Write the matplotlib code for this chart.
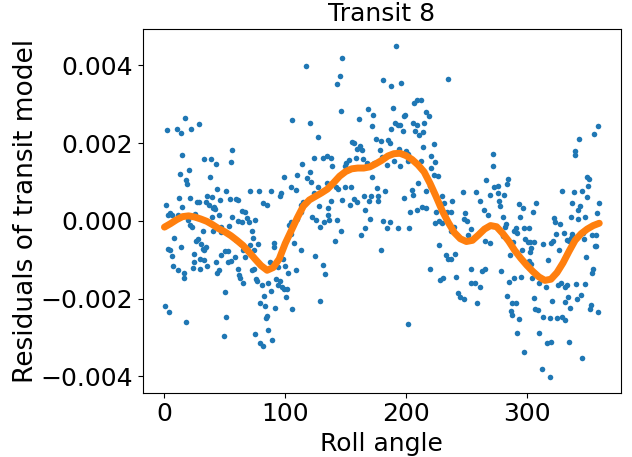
import matplotlib
matplotlib.use("Agg")
import matplotlib.pyplot as plt
import numpy as np

# Residual data (roll angle in degrees, residual in units of 1e-3)
points_1 = [(16.8,2.66),(1.9,2.33),(10.2,2.36),(13.5,2.25),(21.7,2.36),(28.6,2.49),(14.3,1.69),(33.0,1.59),
(38.5,1.58),(42.4,1.46),(55.8,1.83),(55.3,1.52),(20.1,1.30),(12.7,1.20),(18.2,1.05),(18.7,0.94),(38.0,1.12),
(43.7,0.82),(50.9,0.78),(12.1,0.60),(21.2,0.60),(35.5,0.64),(39.0,0.62),(45.9,0.53),(54.5,0.57),(1.4,0.41),
(14.9,0.36),(27.2,0.48),(28.3,0.48),(34.7,0.48),(37.1,0.40),(40.7,0.37),(41.8,0.30),(40.2,0.32),(2.8,0.16),
(4.7,0.21),(6.1,0.16),(11.0,0.14),(19.3,0.03),(21.5,-0.10),(22.8,-0.15),(25.3,0.17),(39.3,0.10),(45.4,0.14),
(55.8,0.10),(31.6,-0.26),(40.4,-0.26),(47.0,-0.16),(53.6,-0.13),(47.0,-0.28),(8.3,-0.45),(2.8,-0.72),(4.7,-0.75),
(13.8,-0.67),(6.3,-0.90),(26.4,-0.52),(27.5,-0.46),(30.3,-0.59),(31.6,-0.72),(34.4,-0.66),(33.0,-0.76),
(24.2,-0.86),(49.8,-0.77),(52.8,-0.77),(46.8,-0.88),(29.7,-0.99),(32.5,-1.01),(24.5,-1.07),(7.4,-1.16),
(11.0,-1.26),(16.5,-1.35),(16.0,-1.48),(23.9,-1.20),(29.2,-1.24),(35.2,-1.16),(42.9,-1.07),(43.7,-1.33),
(45.4,-1.26),(52.3,-1.07),(54.7,-1.04),(50.1,-1.84),(0.8,-2.19),(3.6,-2.34),(17.6,-2.60),(50.6,-2.48),(49.0,-2.97)]

points_2 = [(116.9,3.99),(105.9,2.60),(120.2,2.51),(114.1,1.47),(120.5,1.26),(98.7,1.13),(110.0,1.18),(117.7,1.11),
(121.0,1.01),(104.8,0.88),(109.2,0.80),(71.2,0.77),(78.1,0.78),(88.3,0.76),(95.4,0.64),(96.8,0.71),(81.7,0.47),
(84.7,0.40),(58.9,0.56),(61.0,0.55),(64.6,0.26),(66.6,0.22),(60.8,0.01),(63.8,-0.04),(68.2,0.07),(69.9,-0.03),
(74.8,0.03),(113.3,0.41),(115.0,0.48),(112.8,0.23),(104.5,-0.04),(103.4,-0.11),(110.0,0.06),(121.8,0.09),
(72.3,-0.26),(59.1,-0.49),(63.3,-0.59),(68.2,-0.69),(71.0,-0.62),(73.4,-0.44),(77.3,-0.59),(74.3,-0.76),
(58.0,-0.92),(65.2,-0.76),(66.8,-0.94),(90.8,-0.58),(91.0,-0.68),(105.0,-0.34),(107.3,-0.56),(112.8,-0.76),
(87.2,-1.06),(96.3,-0.96),(98.2,-0.98),(99.6,-1.16),(102.3,-1.33),(108.6,-1.26),(94.3,-1.18),(72.1,-1.26),
(74.3,-1.25),(60.5,-1.24),(61.6,-1.38),(62.7,-1.48),(65.2,-1.61),(75.9,-1.50),(77.0,-1.54),(80.9,-1.65),
(86.1,-1.59),(88.0,-1.81),(92.4,-1.50),(95.4,-1.54),(94.3,-1.65),(97.1,-1.71),(99.0,-1.76),(101.5,-1.74),
(100.4,-1.96),(82.8,-1.92),(78.7,-2.10),(83.6,-2.20),(91.6,-2.23),(105.3,-2.27),(84.7,-2.45),(83.9,-2.51),
(85.8,-2.81),(75.1,-2.90),(78.9,-3.13),(81.7,-3.22),(89.1,-3.06)]

points_3 = [(147.4,4.20),(145.2,3.74),(143.0,3.53),(146.3,2.82),(181.2,3.62),(187.8,3.48),(168.9,2.87),(172.7,2.72),
(161.4,2.61),(171.6,2.45),(187.8,2.36),(189.2,2.90),(127.0,2.15),(175.2,2.12),(179.6,2.06),(184.8,2.09),
(186.5,2.00),(155.1,2.02),(157.0,2.00),(161.7,1.93),(163.6,1.83),(159.5,1.84),(178.2,1.82),(124.0,1.61),
(130.9,1.61),(134.2,1.67),(137.8,1.61),(138.9,1.42),(149.3,1.42),(150.7,1.48),(152.9,1.57),(158.7,1.61),
(164.5,1.59),(167.8,1.50),(173.3,1.50),(180.1,1.64),(184.0,1.43),(172.2,1.12),(126.8,0.87),(134.2,0.97),
(142.2,0.88),(143.6,0.81),(149.3,0.86),(154.3,0.88),(176.0,0.84),(182.9,0.78),(123.8,0.71),(165.0,0.64),
(171.3,0.64),(156.8,0.56),(159.8,0.49),(176.6,0.64),(177.1,0.52),(169.1,0.50),(138.3,0.52),(146.9,0.53),
(153.7,0.42),(127.6,0.39),(135.6,0.32),(166.4,0.29),(125.4,0.02),(132.0,-0.04),(135.3,0.15),(136.4,0.02),
(142.5,0.03),(128.4,-0.15),(145.8,-0.26),(141.4,-0.51),(165.8,-0.19),(162.5,-0.35),(170.0,0.04),(180.7,-0.01),
(184.5,-0.19),(186.5,-0.03),(179.0,-0.76),(124.6,-0.91),(131.5,-1.14),(132.6,-1.37),(129.0,-2.05)]

points_4 = [(191.4,4.50),(196.1,3.54),(234.6,3.66),(206.5,3.03),(209.0,3.11),(212.6,3.10),(216.7,2.80),(219.2,2.69),
(198.0,2.70),(199.4,2.72),(190.9,2.51),(193.0,2.47),(195.3,2.47),(197.7,2.31),(205.7,2.53),(209.0,2.48),
(215.3,2.53),(207.4,2.31),(214.2,2.28),(210.9,2.20),(213.7,1.91),(223.0,1.97),(193.9,1.84),(199.7,1.79),
(201.3,1.72),(190.0,1.53),(194.7,1.42),(201.9,1.55),(212.0,1.53),(220.6,1.66),(223.9,1.52),(220.8,1.36),
(222.8,1.18),(226.3,1.16),(210.1,0.97),(204.6,0.80),(205.7,0.66),(198.3,0.58),(216.2,0.77),(219.5,0.91),
(230.2,0.65),(237.9,0.52),(247.2,0.74),(213.4,0.36),(216.7,0.32),(208.7,0.29),(203.5,0.23),(224.7,0.22),
(231.6,0.47),(234.3,0.22),(237.1,0.22),(248.6,0.21),(193.6,-0.17),(202.7,-0.17),(223.6,-0.06),(227.2,0.00),
(229.9,-0.05),(240.1,-0.16),(248.0,0.05),(250.3,0.01),(253.8,-0.20),(237.6,-0.27),(251.6,-0.36),(227.2,-0.61),
(240.9,-0.86),(232.7,-0.88),(234.9,-0.97),(237.3,-0.99),(253.8,-1.24),(219.7,-1.23),(228.3,-1.53),(230.5,-1.47),
(241.7,-1.45),(253.8,-1.60),(243.4,-1.86),(244.8,-1.95),(247.8,-2.00),(201.6,-2.66)]

points_5 = [(271.8,1.72),(272.3,1.42),(266.0,1.05),(284.4,1.07),(283.6,0.94),(273.1,0.87),(275.9,0.90),(258.0,0.75),
(269.8,0.66),(276.4,0.72),(281.4,0.66),(261.0,0.52),(276.7,0.52),(277.5,0.39),(293.2,0.43),(296.8,0.33),
(307.8,0.47),(305.3,0.22),(264.6,0.27),(268.2,0.14),(280.3,0.10),(294.3,0.09),(282.8,-0.09),(282.2,-0.15),
(289.6,-0.25),(291.3,-0.19),(291.8,-0.30),(297.6,-0.18),(301.5,-0.17),(265.7,-0.52),(269.3,-0.57),(280.6,-0.40),
(288.8,-0.53),(298.4,-0.47),(300.6,-0.55),(302.5,-0.54),(305.9,-0.54),(313.3,-0.59),(319.9,-0.57),(303.1,-0.69),
(302.5,-0.79),(295.7,-0.76),(286.0,-0.87),(301.5,-1.03),(303.4,-1.10),(317.9,-1.01),(262.7,-1.30),(265.2,-1.25),
(278.9,-1.29),(257.4,-1.61),(261.6,-1.69),(289.6,-1.48),(295.1,-1.44),(284.9,-1.56),(304.5,-1.46),(310.2,-1.61),
(316.3,-1.71),(283.3,-1.92),(258.5,-2.12),(288.0,-2.12),(290.7,-2.10),(306.1,-1.99),(306.7,-2.27),(308.9,-2.29),
(286.9,-2.31),(288.0,-2.41),(293.5,-2.53),(313.5,-2.46),(319.0,-2.49),(291.5,-2.89),(310.0,-2.89),(316.8,-3.15),
(320.1,-3.11),(297.9,-3.37),(312.7,-3.82),(319.0,-4.02)]

points_6 = [(358.9,2.45),(355.3,2.24),(343.2,2.11),(340.2,1.81),(339.7,1.70),(350.1,1.12),(351.5,1.07),(350.9,0.90),
(329.2,0.78),(338.8,0.74),(346.0,0.76),(349.8,0.61),(337.7,0.47),(343.8,0.39),(359.7,0.45),(342.7,0.27),
(357.8,0.20),(336.4,0.09),(342.4,0.04),(348.2,0.09),(322.9,0.07),(323.2,-0.02),(327.8,-0.09),(324.0,-0.34),
(330.6,-0.32),(337.7,-0.34),(346.8,-0.32),(354.2,-0.35),(357.0,-0.37),(321.8,-0.51),(333.3,-0.49),(335.0,-0.51),
(336.9,-0.45),(347.6,-0.46),(327.0,-0.75),(356.2,-0.64),(357.5,-0.64),(349.3,-0.94),(355.1,-1.23),(354.2,-1.35),
(325.9,-1.66),(328.4,-1.61),(332.0,-1.71),(333.1,-1.66),(340.7,-1.62),(348.2,-1.63),(344.6,-1.90),(341.9,-2.00),
(334.2,-1.96),(331.9,-2.09),(335.8,-2.25),(321.2,-2.07),(353.4,-2.16),(352.3,-2.26),(358.6,-2.34),(324.8,-2.49),
(328.9,-2.47),(331.7,-2.55),(334.7,-3.12),(345.7,-3.54)]

# Smooth model curve (roll angle, residual in 1e-3)
model_roll = list(range(0, 361, 5))
model_resid = [-0.16,-0.07,0.03,0.11,0.13,0.10,0.05,-0.01,-0.10,-0.20,-0.28,-0.38,-0.50,-0.63,-0.80,-0.98,
-1.15,-1.27,-1.20,-0.98,-0.58,-0.25,0.08,0.38,0.54,0.63,0.72,0.82,0.98,1.15,1.27,1.34,1.36,1.36,1.39,1.47,
1.56,1.67,1.73,1.74,1.68,1.58,1.44,1.26,0.96,0.62,0.26,-0.04,-0.30,-0.46,-0.53,-0.50,-0.36,-0.21,-0.12,-0.15,
-0.32,-0.52,-0.76,-0.96,-1.14,-1.30,-1.44,-1.53,-1.50,-1.33,-1.08,-0.78,-0.50,-0.33,-0.21,-0.12,-0.06]

yticks = [-0.004, -0.002, 0.0, 0.002, 0.004]
xticks = [0, 100, 200, 300]

all_pts = np.array(points_1 + points_2 + points_3 + points_4 + points_5 + points_6)
roll = all_pts[:, 0]
resid = all_pts[:, 1] * 1e-3

plt.rcParams['font.family'] = 'DejaVu Sans'
plt.rcParams['font.size'] = 18

fig = plt.figure(figsize=(6.32, 4.57), dpi=100)
ax = fig.add_axes([0.2258, 0.1407, 0.9826 - 0.2258, 0.9359 - 0.1407])
ax.scatter(roll, resid, s=16, color='#1f77b4', linewidths=0, zorder=2)
ax.plot(model_roll, np.array(model_resid) * 1e-3, color='#ff7f0e', lw=5, zorder=3,
        solid_capstyle='round')
ax.set_xlim(-18, 378)
ax.set_ylim(-0.00442, 0.00493)
ax.set_xticks(xticks)
ax.set_yticks(yticks)
ax.set_xlabel('Roll angle')
ax.set_ylabel('Residuals of transit model', fontsize=19, labelpad=1)
ax.set_title('Transit 8', fontsize=18)
fig.savefig('out.png', dpi=100)
